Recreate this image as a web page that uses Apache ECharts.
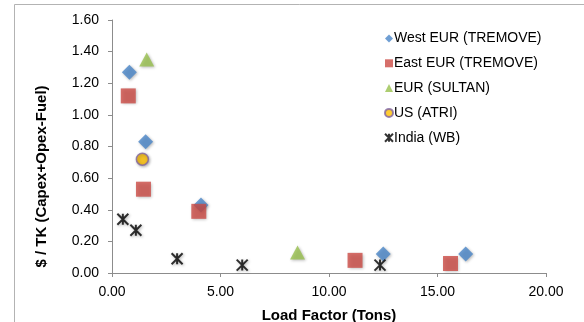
<!DOCTYPE html>
<html>
<head>
<meta charset="utf-8">
<script src="https://cdn.jsdelivr.net/npm/echarts@6/dist/echarts.min.js"></script>
<style>
  html, body { margin: 0; padding: 0; background: #fff; }
  #chart { width: 584px; height: 322px; }
</style>
</head>
<body>
<div id="chart"></div>
<script>
// [load factor (tons), $/TK]
const westEur = [[0.8, 1.27], [1.55, 0.83], [4.1, 0.43], [12.5, 0.12], [16.3, 0.12]];
const eastEur = [[0.75, 1.12], [1.45, 0.53], [4.0, 0.39], [11.2, 0.08], [15.6, 0.06]];
const eurSultan = [[1.6, 1.35], [8.55, 0.13]];
const usAtri = [[1.4, 0.72]];
const india = [[0.5, 0.34], [1.1, 0.27], [3.0, 0.09], [6.0, 0.05], [12.35, 0.05]];

const names = ['West EUR (TREMOVE)', 'East EUR (TREMOVE)', 'EUR (SULTAN)', 'US (ATRI)', 'India (WB)'];

const starPath = 'path://M0,0L10,10M10,0L0,10M5,0L5,10';
const font = 'Liberation Sans, Arial, sans-serif';

const chart = echarts.init(document.getElementById('chart'));

const shadow = {
  shadowBlur: 3,
  shadowColor: 'rgba(0,0,0,0.35)',
  shadowOffsetX: 1,
  shadowOffsetY: 1
};

const option = {
  backgroundColor: '#fff',
  animation: false,
  graphic: [{
    type: 'rect',
    shape: { x: 14.5, y: 4.5, width: 600, height: 400 },
    style: { fill: 'none', stroke: '#b3b3b3', lineWidth: 1 }
  }],
  legend: {
    orient: 'vertical',
    left: 379,
    top: 26,
    itemWidth: 8,
    itemHeight: 8,
    itemGap: 9.8,
    data: names,
    textStyle: {
      fontFamily: font,
      fontSize: 14,
      color: '#000',
      lineHeight: 15,
      padding: [0, 0, 0, -4]
    }
  },
  grid: {
    left: 112,
    right: 38,
    top: 20,
    bottom: 49,
    outerBoundsMode: 'none'
  },
  xAxis: {
    type: 'value',
    min: 0,
    max: 20,
    interval: 5,
    name: 'Load Factor (Tons)',
    nameLocation: 'middle',
    nameGap: 35,
    nameTextStyle: { fontFamily: font, fontSize: 15, fontWeight: 'bold', color: '#000' },
    axisLine: { show: true, lineStyle: { color: '#8c8c8c' } },
    axisTick: { show: true, length: 4, lineStyle: { color: '#8c8c8c' } },
    splitLine: { show: false },
    axisLabel: {
      fontFamily: font,
      fontSize: 14,
      color: '#000',
      margin: 12,
      formatter: v => v.toFixed(2)
    }
  },
  yAxis: {
    type: 'value',
    min: 0,
    max: 1.6,
    interval: 0.2,
    name: '$ / TK (Capex+Opex-Fuel)',
    nameLocation: 'middle',
    nameGap: 63,
    nameRotate: 90,
    nameTextStyle: {
      fontFamily: font,
      fontSize: 15,
      fontWeight: 'bold',
      color: '#000',
      padding: [0, 60, 0, 0]
    },
    axisLine: { show: true, lineStyle: { color: '#8c8c8c' } },
    axisTick: { show: true, length: 4, lineStyle: { color: '#8c8c8c' } },
    splitLine: { show: false },
    axisLabel: {
      fontFamily: font,
      fontSize: 14,
      color: '#000',
      margin: 13,
      formatter: v => v.toFixed(2)
    }
  },
  series: [{
    name: names[0],
    type: 'scatter',
    symbol: 'diamond',
    symbolSize: [15, 15],
    itemStyle: Object.assign({ color: '#4a86c8' }, shadow),
    data: westEur
  }, {
    name: names[1],
    type: 'scatter',
    symbol: 'rect',
    symbolSize: 15,
    itemStyle: Object.assign({ color: '#cc4b45' }, shadow),
    data: eastEur
  }, {
    name: names[2],
    type: 'scatter',
    symbol: 'triangle',
    symbolSize: [15, 14],
    itemStyle: Object.assign({ color: '#98c04e' }, shadow),
    data: eurSultan
  }, {
    name: names[3],
    type: 'scatter',
    symbol: 'circle',
    symbolSize: 12,
    itemStyle: Object.assign({ color: '#ffc000', borderColor: '#8064a2', borderWidth: 1.5 }, shadow),
    data: usAtri
  }, {
    name: names[4],
    type: 'scatter',
    symbol: starPath,
    symbolSize: 11,
    itemStyle: Object.assign({ color: 'transparent', borderColor: '#000', borderWidth: 2 }, shadow),
    data: india
  }]
};

chart.setOption(option);
</script>
</body>
</html>
